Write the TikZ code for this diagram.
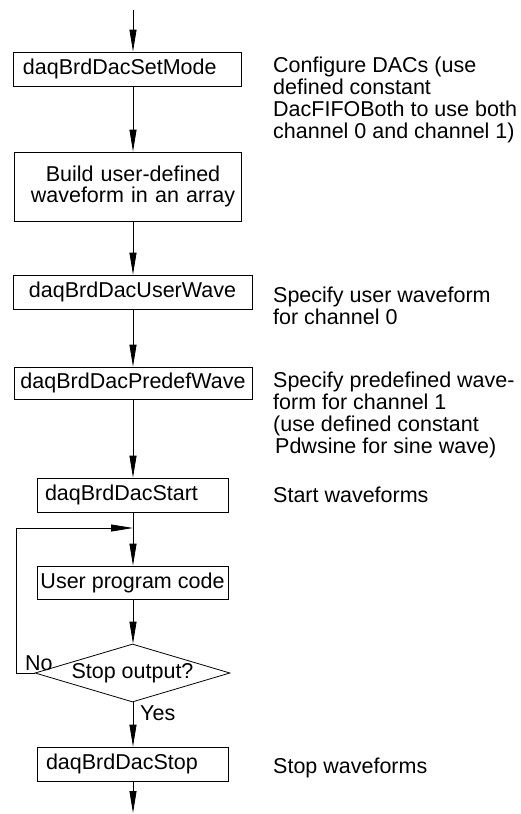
\documentclass[tikz,border=0pt]{standalone}
\usepackage{fontspec}
\setmainfont{Liberation Sans}
\usetikzlibrary{arrows.meta,shapes.geometric}
\newcommand\fsz{\fontsize{21.5pt}{21.5pt}\selectfont}
\tikzset{
  box/.style={draw, line width=0.8pt, rectangle, inner ysep=0pt, minimum height=34pt, font=\fsz},
  arr/.style={draw, line width=0.8pt, -{Triangle[length=22pt,width=7pt]}},
  note/.style={anchor=base west, inner sep=0pt, font=\fsz},
  dec/.style={draw, line width=0.8pt, diamond, aspect=3.36, inner sep=0pt, minimum width=195pt, minimum height=58pt, font=\fsz},
}
\begin{document}
\begin{tikzpicture}[x=1pt,y=-1pt]
\useasboundingbox (0,0) rectangle (520,814);
% spine and free ends
\coordinate (sx) at (133,0);
\coordinate (top) at (133,10);
\coordinate (bot) at (133,813);
\coordinate (j) at (133,528);
\coordinate (lt) at (16,528);
% boxes
\node[box, minimum width=228pt, text width=208pt, inner xsep=10pt, align=left] (b1) at (127,69) {daqBrdDacSetMode};
\node[box, minimum width=227pt, minimum height=69pt, text width=223pt, inner xsep=2pt, align=center] (b2) at (127.5,186.5) {\hspace*{11pt}Build user-defined\\\hspace*{11pt}waveform in an array};
\node[box, minimum width=239pt] (b3) at (132.5,292) {daqBrdDacUserWave};
\node[box, minimum width=238pt, minimum height=32pt] (b4) at (133,383) {daqBrdDacPredefWave};
\node[box, minimum width=191pt, text width=175pt, inner xsep=8pt, align=left] (b5) at (132.5,495) {daqBrdDacStart};
\node[box, minimum width=191pt, minimum height=33pt] (b6) at (132.5,582.5) {User program code};
\node[dec] (d) at (132.5,673) {Stop output?};
\node[box, minimum width=191pt, text width=173pt, inner xsep=9pt, align=left] (b7) at (132.5,764) {daqBrdDacStop};
% connectors
\draw[arr] (top) -- (b1.north -| sx);
\draw[arr] (b1.south -| sx) -- (b2.north -| sx);
\draw[arr] (b2.south -| sx) -- (b3.north -| sx);
\draw[arr] (b3.south -| sx) -- (b4.north -| sx);
\draw[arr] (b4.south -| sx) -- (b5.north -| sx);
\draw[arr] (b5.south -| sx) -- (b6.north -| sx);
\draw[arr] (b6.south -| sx) -- (d.north -| sx);
\draw[arr] (d.south -| sx) -- (b7.north -| sx);
\draw[arr] (b7.south -| sx) -- (bot);
\draw[arr] (d.west) -- (d.west -| lt) -- (lt) -- (j);
% labels
\node[note] (no) at (25,670) {No};
\node[note] (yes) at (140,720) {Yes};
\node[note] (t1) at (273,72) {\begin{tabular}[t]{@{}l@{}}Configure DACs (use\\defined constant\\DacFIFOBoth to use both\\channel 0 and channel 1)\end{tabular}};
\node[note] (t2) at (273,302) {\begin{tabular}[t]{@{}l@{}}Specify user waveform\\for channel 0\end{tabular}};
\node[note] (t3) at (273,387) {\begin{tabular}[t]{@{}l@{}}Specify predefined wave-\\form for channel 1\\(use defined constant\\\hspace*{2pt}Pdwsine for sine wave)\end{tabular}};
\node[note] (t4) at (273,502) {Start waveforms};
\node[note] (t5) at (273,773.5) {Stop waveforms};
\end{tikzpicture}
\end{document}
